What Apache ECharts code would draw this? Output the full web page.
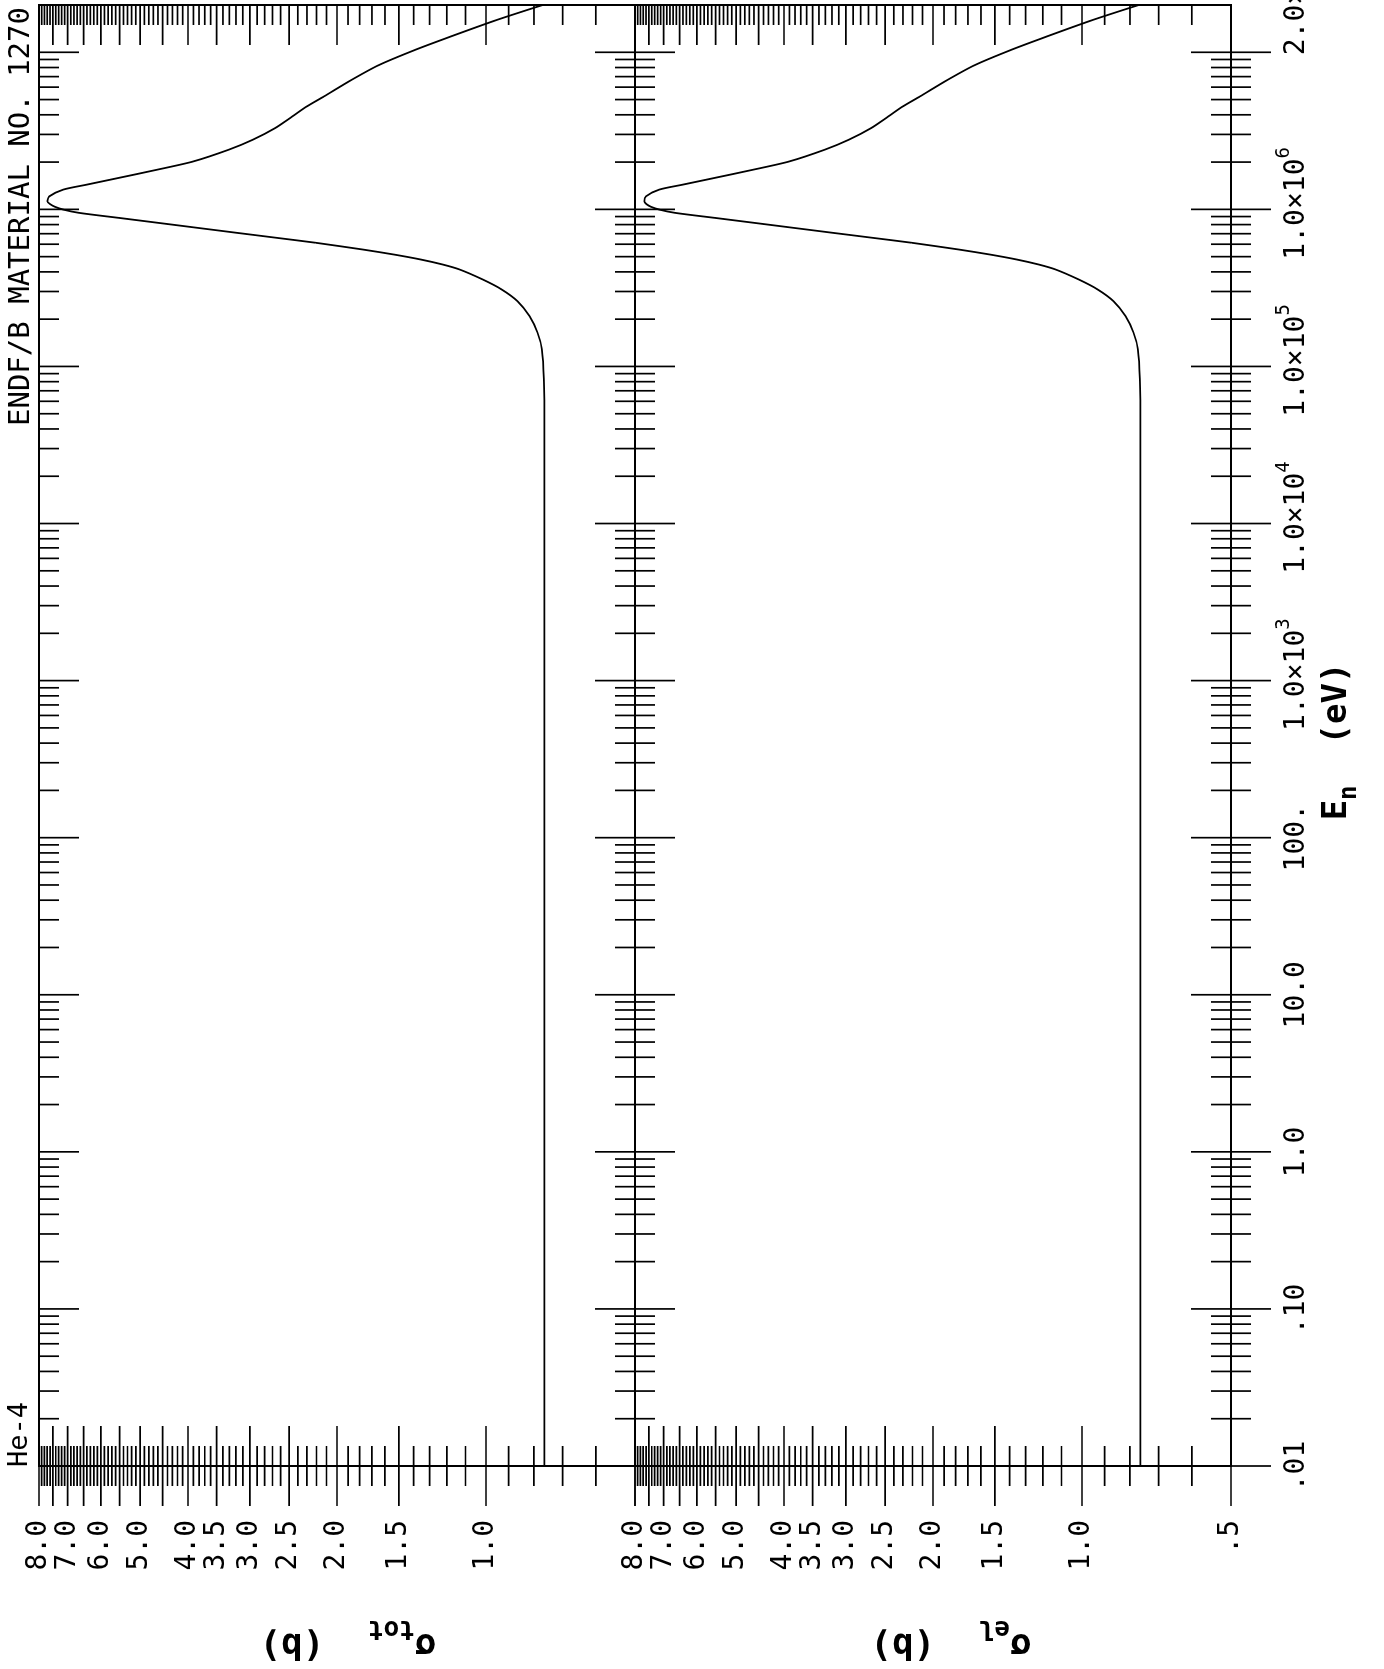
<!DOCTYPE html>
<html>
<head>
<meta charset="utf-8">
<script src="https://cdn.jsdelivr.net/npm/echarts@6/dist/echarts.min.js"></script>
<style>
html,body{margin:0;padding:0;overflow:hidden;background:#fff;width:1384px;height:1669px;}
#chart{position:absolute;left:0;top:0;width:1669px;height:1384px;transform-origin:0 0;transform:translate(0px,1669px) rotate(-90deg);}
</style>
</head>
<body>
<div id="chart"></div>
<script>
// ---- data (He-4, ENDF/B MAT 1270) ----
const energy = [0.01, 1, 100, 1e4, 4e4, 8.29e4, 1.286e5, 1.642e5, 2.094e5, 2.607e5, 3.094e5, 3.581e5, 4.144e5, 4.459e5, 4.798e5, 5.162e5, 5.553e5, 6.127e5, 6.591e5, 7.089e5, 7.627e5, 8.207e5, 8.831e5, 9.5e5, 9.97e5, 1.039e6, 1.081e6, 1.126e6, 1.211e6, 1.336e6, 1.438e6, 1.585e6, 1.79e6, 2.021e6, 2.398e6, 2.777e6, 3.295e6, 3.904e6, 4.519e6, 5.232e6, 6.677e6, 8.317e6, 1.036e7, 1.258e7, 1.606e7, 2.0e7];
const sigmaTot = [0.762, 0.762, 0.762, 0.762, 0.762, 0.764, 0.771, 0.787, 0.817, 0.864, 0.930, 1.016, 1.131, 1.224, 1.356, 1.537, 1.776, 2.206, 2.650, 3.185, 3.827, 4.597, 5.526, 6.640, 7.145, 7.428, 7.602, 7.695, 7.623, 7.145, 6.398, 5.526, 4.612, 3.897, 3.309, 2.958, 2.666, 2.462, 2.303, 2.126, 1.868, 1.643, 1.391, 1.180, 0.951, 0.768];
const sigmaEl = [0.762, 0.762, 0.762, 0.762, 0.762, 0.764, 0.771, 0.787, 0.817, 0.864, 0.930, 1.016, 1.131, 1.224, 1.356, 1.537, 1.776, 2.206, 2.650, 3.185, 3.827, 4.597, 5.526, 6.640, 7.145, 7.428, 7.590, 7.660, 7.600, 7.145, 6.398, 5.526, 4.612, 3.897, 3.309, 2.958, 2.666, 2.462, 2.303, 2.126, 1.868, 1.643, 1.391, 1.180, 0.951, 0.768];

// ---- axes / ticks / labels ----
const E_MIN = 0.01, E_MAX = 2e7, S_MIN = 0.5, S_MAX = 8.0;
const energyMajorTicks = [0.01, 0.1, 1, 10, 100, 1e3, 1e4, 1e5, 1e6, 1e7];
const energyMinorMultipliers = [2, 3, 4, 5, 6, 7, 8, 9];
const energyLabelValues = [0.01, 0.1, 1, 10, 100, 1e3, 1e4, 1e5, 1e6, 2e7];
const energyLabelMain = ['.01', '.10', '1.0', '10.0', '100.', '1.0×10', '1.0×10', '1.0×10', '1.0×10', '2.0×10'];
const energyLabelExp = ['', '', '', '', '', '3', '4', '5', '6', '7'];
const sigmaMajorTicks = [8.0, 7.5, 7.0, 6.5, 6.0, 5.5, 5.0, 4.5, 4.0, 3.5, 3.0, 2.5, 2.0, 1.5, 1.0, 0.5];
const sigmaMinorTenths = [79, 6]; // minor ticks every 0.1 b from 7.9 down to 0.6
const sigmaLabelValues = [8.0, 7.0, 6.0, 5.0, 4.0, 3.5, 3.0, 2.5, 2.0, 1.5, 1.0, 0.5];
const sigmaLabelText = ['8.0', '7.0', '6.0', '5.0', '4.0', '3.5', '3.0', '2.5', '2.0', '1.5', '1.0', '.5'];
const titleText = 'ENDF/B MATERIAL NO. 1270';
const nuclideText = 'He-4';

const F = '"DejaVu Sans Mono", "Liberation Mono", monospace';
const LONG = 40, SHORT = 20, LW = 1.7;

const energyMinor = [];
energyMajorTicks.slice(0, 9).forEach(d => energyMinorMultipliers.forEach(m => energyMinor.push(+(m * d).toPrecision(3))));
const sigmaMinor = [];
for (let k = sigmaMinorTenths[0]; k >= sigmaMinorTenths[1]; k--) if (k % 5) sigmaMinor.push(k / 10);

const eTickData = energyMajorTicks.map(e => [e, S_MAX, LONG]).concat(energyMinor.map(e => [e, S_MAX, SHORT]));
const sTickData = sigmaMajorTicks.map(s => [E_MIN, s, LONG]).concat(sigmaMinor.map(s => [E_MIN, s, SHORT]));

function seg(x1, y1, x2, y2) {
  return { type: 'line', shape: { x1, y1, x2, y2 }, style: { stroke: '#000', lineWidth: LW } };
}

function energyTickSeries(gi) {
  return {
    type: 'custom', xAxisIndex: gi, yAxisIndex: gi, silent: true, z: 5,
    data: eTickData, encode: { x: 0, y: 1 },
    renderItem(params, api) {
      const e = api.value(0), L = api.value(2);
      const t = api.coord([e, S_MAX]), b = api.coord([e, S_MIN]);
      const ch = [seg(b[0], b[1] - L, b[0], b[1] + L)];
      if (gi === 0) ch.push(seg(t[0], t[1], t[0], t[1] + L));
      return { type: 'group', children: ch };
    }
  };
}
function sigmaTickSeries(gi) {
  return {
    type: 'custom', xAxisIndex: gi, yAxisIndex: gi, silent: true, z: 5,
    data: sTickData, encode: { x: 0, y: 1 },
    renderItem(params, api) {
      const s = api.value(1), L = api.value(2);
      const l = api.coord([E_MIN, s]), r = api.coord([E_MAX, s]);
      return { type: 'group', children: [seg(l[0] - L, l[1], l[0] + L, l[1]), seg(r[0] - L, r[1], r[0], r[1])] };
    }
  };
}
function sigmaLabelSeries(gi) {
  const vals = gi === 0 ? sigmaLabelValues.slice(0, -1) : sigmaLabelValues;
  return {
    type: 'custom', xAxisIndex: gi, yAxisIndex: gi, silent: true, z: 6,
    data: vals.map(s => [E_MIN, s]), encode: { x: 0, y: 1 },
    renderItem(params, api) {
      const p = api.coord([E_MIN, api.value(1)]);
      return {
        type: 'text',
        style: {
          text: sigmaLabelText[params.dataIndex], x: p[0] - 54, y: p[1], fill: '#000',
          font: '28px ' + F, align: 'right', verticalAlign: 'middle', textAlign: 'right', textVerticalAlign: 'middle'
        }
      };
    }
  };
}
function energyLabelSeries(gi) {
  return {
    type: 'custom', xAxisIndex: gi, yAxisIndex: gi, silent: true, z: 6,
    data: energyLabelValues.map(e => [e, S_MIN]), encode: { x: 0, y: 1 },
    renderItem(params, api) {
      const i = params.dataIndex;
      const p = api.coord([api.value(0), S_MIN]);
      const exp = energyLabelExp[i];
      const txt = '{m|' + energyLabelMain[i] + '}' + (exp ? '{s|' + exp + '}' : '');
      return {
        type: 'text',
        style: {
          text: txt, x: p[0] + (exp ? 6 : 0), y: p[1] + 44, fill: '#000',
          align: 'center', verticalAlign: 'top', textAlign: 'center', textVerticalAlign: 'top',
          rich: {
            m: { fontSize: 28, fontFamily: F, lineHeight: 36, verticalAlign: 'bottom', fill: '#000' },
            s: { fontSize: 19, fontFamily: F, lineHeight: 20, verticalAlign: 'top', fill: '#000' }
          }
        }
      };
    }
  };
}

const gridBase = { left: 200, right: 5, height: 596, show: true, borderColor: '#000', borderWidth: 2, backgroundColor: 'transparent' };
const hiddenAxis = { axisLine: { show: false }, axisTick: { show: false }, axisLabel: { show: false }, splitLine: { show: false } };

function sigmaNameStyle(shiftPad) {
  return {
    color: '#000',
    padding: [0, shiftPad, 0, 0],
    rich: {
      s: { fontSize: 36, fontWeight: 'bold', fontFamily: F, fill: '#000' },
      b: { fontSize: 26, fontWeight: 'bold', fontFamily: F, padding: [30, 0, 0, 0], fill: '#000' }
    }
  };
}

const option = {
  animation: false,
  backgroundColor: '#fff',
  grid: [Object.assign({ top: 39 }, gridBase), Object.assign({ top: 635 }, gridBase)],
  xAxis: [
    Object.assign({ type: 'log', logBase: 10, gridIndex: 0, min: E_MIN, max: E_MAX }, hiddenAxis),
    Object.assign({
      type: 'log', logBase: 10, gridIndex: 1, min: E_MIN, max: E_MAX,
      name: '{m|E}{n|n}{m|  (eV)}', nameLocation: 'middle', nameGap: 81,
      nameTextStyle: {
        color: '#000',
        padding: [0, 12, 0, 0],
        rich: {
          m: { fontSize: 34, fontWeight: 'bold', fontFamily: F, fill: '#000' },
          n: { fontSize: 24, fontWeight: 'bold', fontFamily: F, padding: [26, 0, 0, 0], fill: '#000' }
        }
      }
    }, hiddenAxis)
  ],
  yAxis: [
    Object.assign({
      type: 'log', logBase: 10, gridIndex: 0, min: S_MIN, max: S_MAX,
      name: '{s|σ}{b|tot}{s|  (b)}', nameLocation: 'middle', nameRotate: 90, nameGap: 149, nameTextStyle: sigmaNameStyle(22)
    }, hiddenAxis),
    Object.assign({
      type: 'log', logBase: 10, gridIndex: 1, min: S_MIN, max: S_MAX,
      name: '{s|σ}{b|el}{s|  (b)}', nameLocation: 'middle', nameRotate: 90, nameGap: 149, nameTextStyle: sigmaNameStyle(36)
    }, hiddenAxis)
  ],
  graphic: [
    { type: 'text', x: 1662, y: 21, style: { text: titleText, font: '29px ' + F, fill: '#000', align: 'right', verticalAlign: 'middle', textAlign: 'right', textVerticalAlign: 'middle' } },
    { type: 'text', x: 202, y: 20, style: { text: nuclideText, font: '27px ' + F, fill: '#000', align: 'left', verticalAlign: 'middle', textAlign: 'left', textVerticalAlign: 'middle' } }
  ],
  series: [
    {
      type: 'line', xAxisIndex: 0, yAxisIndex: 0, showSymbol: false, smooth: 0.25,
      lineStyle: { color: '#000', width: 1.8 }, data: energy.map((e, i) => [e, sigmaTot[i]]), z: 4
    },
    {
      type: 'line', xAxisIndex: 1, yAxisIndex: 1, showSymbol: false, smooth: 0.25,
      lineStyle: { color: '#000', width: 1.8 }, data: energy.map((e, i) => [e, sigmaEl[i]]), z: 4
    },
    energyTickSeries(0), energyTickSeries(1),
    sigmaTickSeries(0), sigmaTickSeries(1),
    sigmaLabelSeries(0), sigmaLabelSeries(1),
    energyLabelSeries(1)
  ]
};

const chart = echarts.init(document.getElementById('chart'), null, { renderer: 'canvas', width: 1669, height: 1384 });
chart.setOption(option);
</script>
</body>
</html>
